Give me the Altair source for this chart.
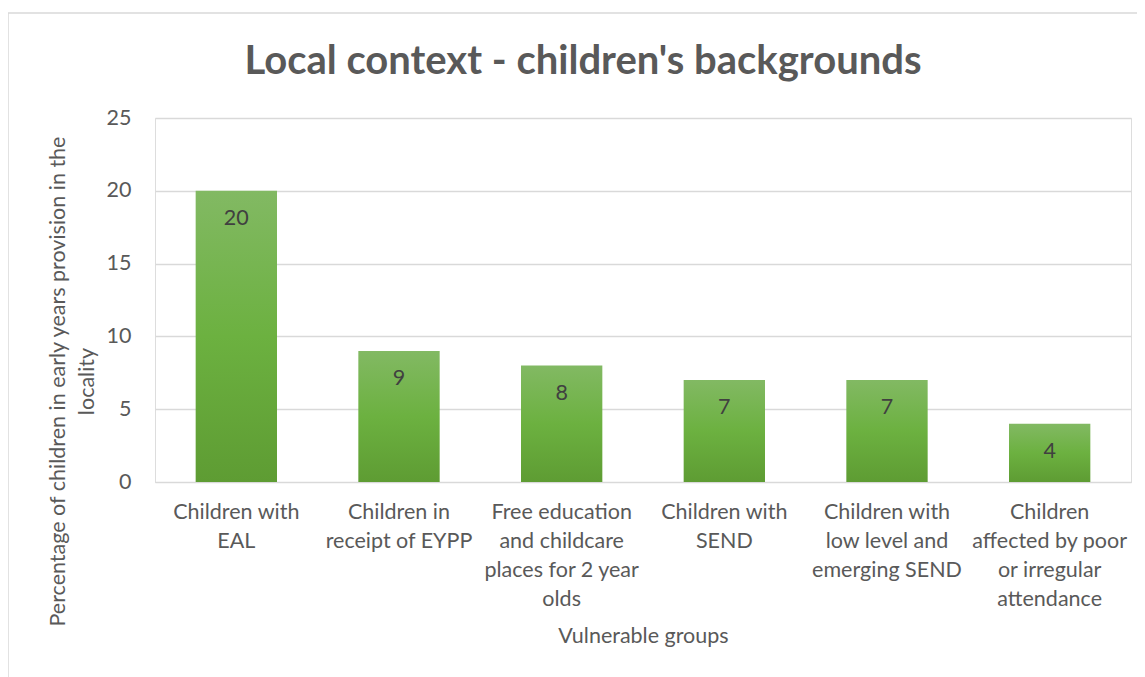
import altair as alt
import pandas as pd

categories = [
    "Children with|EAL",
    "Children in|receipt of EYPP",
    "Free education|and childcare|places for 2 year|olds",
    "Children with|SEND",
    "Children with|low level and|emerging SEND",
    "Children|affected by poor|or irregular|attendance",
]
values = [20, 9, 8, 7, 7, 4]

title_text = "Local context - children's backgrounds"
y_title = ["Percentage of children in early years provision in the", "locality"]
x_title = "Vulnerable groups"

df = pd.DataFrame({"cat": categories, "val": values})
one = pd.DataFrame({"a": [0]})

FONT = "Lato"
TXT = "#595959"
FS = 21.5

W, H = 976, 364

x_enc = alt.X(
    "cat:N",
    sort=categories,
    scale=alt.Scale(paddingInner=0.5, paddingOuter=0.25),
    axis=alt.Axis(
        title=x_title,
        labelExpr="split(datum.label, '|')",
        labelAngle=0,
        labelFont=FONT,
        labelFontSize=FS,
        labelColor=TXT,
        labelLineHeight=29,
        labelPadding=19,
        labelLimit=0,
        ticks=False,
        domainColor="#d9d9d9",
        domainWidth=1,
        titleFont=FONT,
        titleFontSize=FS,
        titleFontWeight="normal",
        titleColor=TXT,
        titleX=W / 2,
        titleY=154,
        titleBaseline="middle",
        titleAlign="center",
    ),
)

y_enc = alt.Y(
    "val:Q",
    scale=alt.Scale(domain=[0, 25], nice=False),
    axis=alt.Axis(
        title=y_title,
        values=[0, 5, 10, 15, 20, 25],
        labelFont=FONT,
        labelFontSize=FS,
        labelColor=TXT,
        labelPadding=24,
        ticks=False,
        domain=False,
        grid=True,
        gridColor="#d9d9d9",
        gridWidth=1.3,
        titleFont=FONT,
        titleFontSize=FS,
        titleFontWeight="normal",
        titleColor=TXT,
        titleAngle=270,
        titleLineHeight=29,
        titleX=-97,
        titleY=263,
        titleAlign="center",
        titleBaseline="middle",
    ),
)

bars = alt.Chart(df).mark_bar(
    color=alt.Gradient(
        gradient="linear",
        x1=0, x2=0, y1=0, y2=1,
        stops=[
            alt.GradientStop(color="#82b963", offset=0),
            alt.GradientStop(color="#6cb140", offset=0.5),
            alt.GradientStop(color="#5e9c33", offset=1),
        ],
    )
).encode(x=x_enc, y=y_enc)

labels = alt.Chart(df).mark_text(
    font=FONT, fontSize=FS, color="#404040", baseline="middle", dy=28
).encode(x=alt.X("cat:N", sort=categories), y="val:Q", text="val:Q")

frame = alt.Chart(one).mark_rect(
    fill="transparent", stroke="#d9d9d9", strokeWidth=1.5
).encode(
    x=alt.value(-147), x2=alt.value(1010), y=alt.value(-105), y2=alt.value(600)
)

title = alt.Chart(one).mark_text(
    font=FONT, fontSize=40, fontWeight="bold", color=TXT, baseline="middle", align="center"
).encode(x=alt.value(428), y=alt.value(-56), text=alt.value(title_text))

chart = (
    alt.layer(frame, bars, labels, title)
    .properties(
        width=W,
        height=H,
        autosize=alt.AutoSizeParams(type="none"),
        padding={"left": 147, "top": 110, "right": 6, "bottom": 195},
    )
    .configure_view(stroke=None)
    .configure(background="white")
)

chart.save("out.html", embed_options={"renderer": "svg", "actions": False})
